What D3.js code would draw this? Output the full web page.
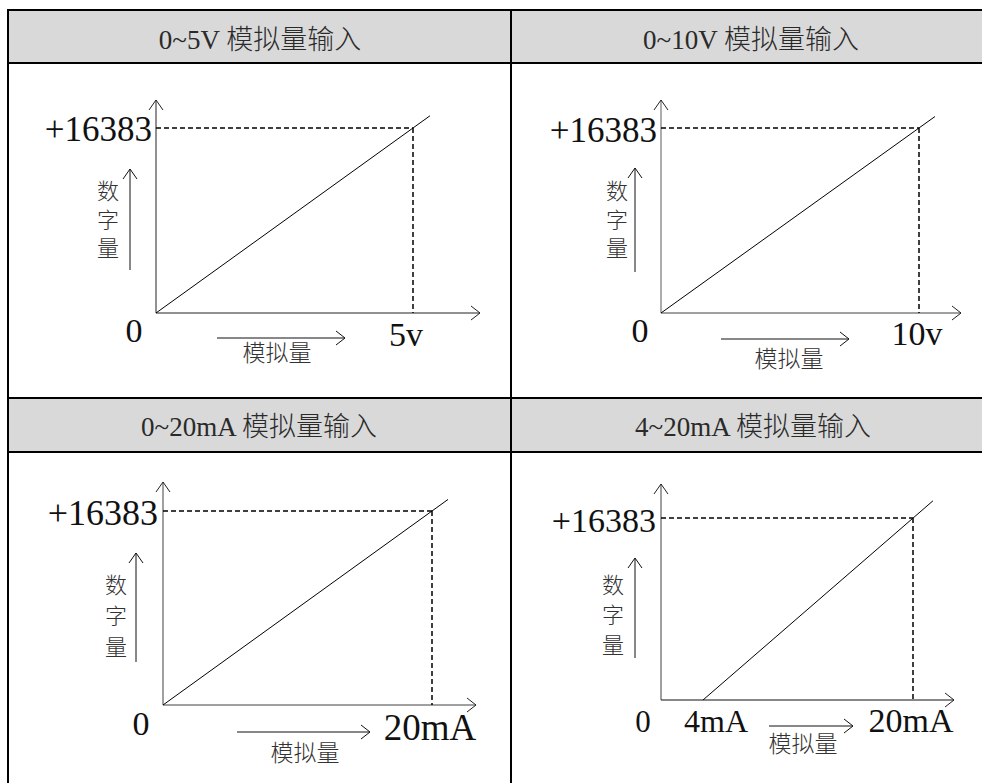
<!DOCTYPE html>
<html><head><meta charset="utf-8">
<script src="https://cdn.jsdelivr.net/npm/d3@7"></script>
<style>
html,body{margin:0;padding:0;background:#fff;}
svg{display:block;}
</style></head>
<body>
<svg id="chart" width="982" height="783"></svg>
<script>
// ---------- data ----------
const titles = ["0~5V 模拟量输入", "0~10V 模拟量输入", "0~20mA 模拟量输入", "4~20mA 模拟量输入"];
const xStart = [0, 0, 0, 4];
const xEnd = [5, 10, 20, 20];
const xUnit = ["v", "v", "mA", "mA"];
const yFull = 16383;
const yTickLabel = "+16383";
const zeroLabel = "0";
const lineX = [[0, 5.33], [0, 10.62], [0, 21.19], [4, 21.52]];
const lineY = [[0, 17464], [0, 17400], [0, 17357], [0, 17930]];
const yAxisTitle = "数字量";
const xAxisTitle = "模拟量";

// ---------- layout ----------
const SERIF = "'Liberation Serif','Times New Roman','Noto Sans CJK SC',serif";
const CJK = "'Noto Sans CJK SC','Liberation Serif',sans-serif";
const layout = [
  {axisX:156, x0:156, dx:413, oy:313, ty:128, axTop:100, axRight:480, axColor:"#222", axW:1,
   yLab:{x:152, y:141, fs:35}, zero:{x:134, y:342, fs:34}, unit:{x:406, y:346, fs:34},
   vt:{x:108, top:180, gap:28.5, fs:22, ax:130, ay0:270, ay1:169},
   ht:{x0:217, x1:345, y:338, tx:277, ty:351, fs:23}},
  {axisX:661, x0:661, dx:919, oy:313, ty:128, axTop:100, axRight:961, axColor:"#808080", axW:1.3,
   yLab:{x:657, y:142, fs:35}, zero:{x:640, y:342, fs:34}, unit:{x:917, y:345, fs:34},
   vt:{x:617, top:180, gap:28.5, fs:22, ax:635, ay0:272, ay1:168},
   ht:{x0:721, x1:849, y:339, tx:789, ty:357, fs:23}},
  {axisX:163, x0:163, dx:432, oy:705, ty:511, axTop:482, axRight:476, axColor:"#808080", axW:1.5,
   yLab:{x:158, y:525, fs:36}, zero:{x:141, y:735, fs:34}, unit:{x:430, y:740, fs:37},
   vt:{x:116, top:574, gap:31, fs:22, ax:136, ay0:662, ay1:553},
   ht:{x0:237, x1:370, y:732, tx:305, ty:751, fs:23}},
  {axisX:661, x0:703, dx:913, oy:700, ty:518, axTop:484, axRight:954, axColor:"#808080", axW:1.5, xAxColor:"#111", xAxW:1,
   yLab:{x:656, y:532, fs:34}, zero:{x:643, y:732, fs:31}, unit:{x:911, y:732, fs:34},
   start:{x:716, y:732, fs:32},
   vt:{x:613, top:574, gap:30, fs:22, ax:635, ay0:658, ay1:558},
   ht:{x0:769, x1:853, y:726, tx:803, ty:742, fs:23}}
];
const headers = [
  {x0:8, x1:982, y0:10, y1:63},
  {x0:8, x1:982, y0:398, y1:452}
];
const titlePos = [{x:260, y:49}, {x:751, y:49}, {x:259, y:436}, {x:753, y:436}];

const svg = d3.select("#chart");

// ---------- table ----------
const hdr = svg.append("g");
headers.forEach(h => {
  hdr.append("rect").attr("x", h.x0).attr("y", h.y0).attr("width", h.x1 - h.x0).attr("height", h.y1 - h.y0)
     .attr("fill", "#d9d9d9");
});
const tl = svg.append("g").attr("stroke", "#000").attr("stroke-width", 2);
[10, 63, 398, 452].forEach(y => tl.append("line").attr("x1", 7).attr("x2", 982).attr("y1", y).attr("y2", y));
[8, 511].forEach(x => tl.append("line").attr("x1", x).attr("x2", x).attr("y1", 9).attr("y2", 783));

titles.forEach((t, i) => {
  svg.append("text").attr("x", titlePos[i].x).attr("y", titlePos[i].y)
    .attr("text-anchor", "middle").attr("font-family", SERIF).attr("font-size", 27)
    .attr("font-weight", 300).attr("fill", "#2a2a2a").text(t);
});

function chevronUp(g, x, y, color, w) {
  g.append("path").attr("d", `M${x-7},${y+10}L${x},${y}L${x+7},${y+10}`)
    .attr("fill", "none").attr("stroke", color).attr("stroke-width", w);
}
function chevronRight(g, x, y, color, w) {
  g.append("path").attr("d", `M${x-9},${y-7}L${x},${y}L${x-9},${y+7}`)
    .attr("fill", "none").attr("stroke", color).attr("stroke-width", w);
}

// ---------- panels ----------
layout.forEach((L, i) => {
  const g = svg.append("g");
  const x = d3.scaleLinear().domain([xStart[i], xEnd[i]]).range([L.x0, L.dx]);
  const y = d3.scaleLinear().domain([0, yFull]).range([L.oy, L.ty]);

  // axes
  g.append("line").attr("x1", L.axisX).attr("x2", L.axisX).attr("y1", y(0)).attr("y2", L.axTop)
    .attr("stroke", L.axColor).attr("stroke-width", L.axW);
  chevronUp(g, L.axisX, L.axTop, "#222", 1);
  g.append("line").attr("x1", L.axisX).attr("x2", L.axRight).attr("y1", y(0)).attr("y2", y(0))
    .attr("stroke", L.xAxColor || L.axColor).attr("stroke-width", L.xAxW || L.axW);
  chevronRight(g, L.axRight, y(0), "#222", 1);

  // dashed guides
  g.append("line").attr("x1", L.axisX).attr("x2", x(xEnd[i])).attr("y1", y(yFull)).attr("y2", y(yFull))
    .attr("stroke", "#000").attr("stroke-width", 1.5).attr("stroke-dasharray", "5,3");
  g.append("line").attr("x1", x(xEnd[i])).attr("x2", x(xEnd[i])).attr("y1", y(yFull)).attr("y2", y(0))
    .attr("stroke", "#000").attr("stroke-width", 1.5).attr("stroke-dasharray", "5,3");

  // transfer line
  const pts = lineX[i].map((v, k) => [v, lineY[i][k]]);
  g.append("path").datum(pts)
    .attr("d", d3.line().x(d => x(d[0])).y(d => y(d[1])))
    .attr("fill", "none").attr("stroke", "#000").attr("stroke-width", 1);

  // labels
  g.append("text").attr("x", L.yLab.x).attr("y", L.yLab.y).attr("text-anchor", "end")
    .attr("font-family", SERIF).attr("font-size", L.yLab.fs).attr("fill", "#111").text(yTickLabel);
  g.append("text").attr("x", L.zero.x).attr("y", L.zero.y).attr("text-anchor", "middle")
    .attr("font-family", SERIF).attr("font-size", L.zero.fs).attr("fill", "#111").text(zeroLabel);
  g.append("text").attr("x", L.unit.x).attr("y", L.unit.y).attr("text-anchor", "middle")
    .attr("font-family", SERIF).attr("font-size", L.unit.fs).attr("fill", "#111").text(xEnd[i] + xUnit[i]);
  if (L.start) {
    g.append("text").attr("x", L.start.x).attr("y", L.start.y).attr("text-anchor", "middle")
      .attr("font-family", SERIF).attr("font-size", L.start.fs).attr("fill", "#111").text(xStart[i] + xUnit[i]);
  }

  // vertical axis title (one vertical text) + arrow
  g.append("text").attr("x", L.vt.x).attr("y", L.vt.top)
    .style("writing-mode", "vertical-rl")
    .attr("font-family", CJK).attr("font-size", L.vt.fs)
    .attr("letter-spacing", L.vt.gap - L.vt.fs)
    .attr("font-weight", 300).attr("fill", "#333").text(yAxisTitle);
  g.append("line").attr("x1", L.vt.ax).attr("x2", L.vt.ax).attr("y1", L.vt.ay0).attr("y2", L.vt.ay1)
    .attr("stroke", "#111").attr("stroke-width", 1);
  chevronUp(g, L.vt.ax, L.vt.ay1, "#111", 1);

  // horizontal axis title + arrow
  g.append("line").attr("x1", L.ht.x0).attr("x2", L.ht.x1).attr("y1", L.ht.y).attr("y2", L.ht.y)
    .attr("stroke", "#111").attr("stroke-width", 1);
  chevronRight(g, L.ht.x1, L.ht.y, "#111", 1);
  g.append("text").attr("x", L.ht.tx).attr("y", L.ht.ty).attr("text-anchor", "middle")
    .attr("dominant-baseline", "central").attr("font-family", CJK).attr("font-size", L.ht.fs)
    .attr("font-weight", 300).attr("fill", "#333").text(xAxisTitle);
});
</script>
</body></html>
